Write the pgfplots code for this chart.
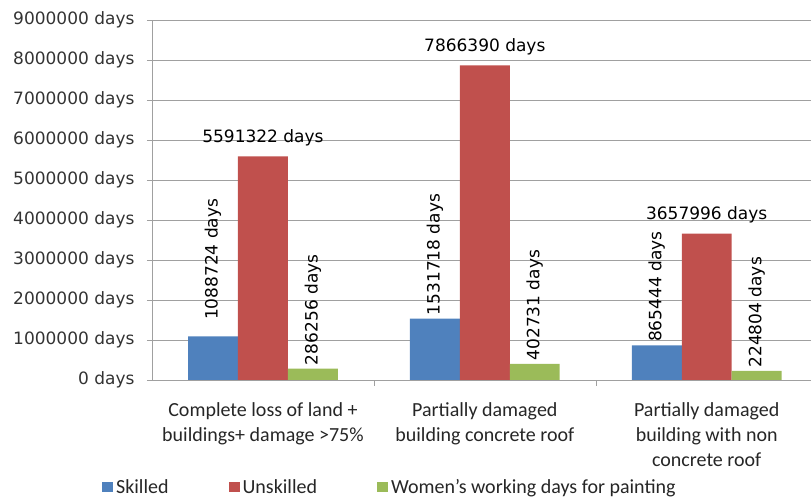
\documentclass[border=0pt]{standalone}
\usepackage{fontspec}
\setmainfont{Carlito}
\newfontfamily\dejavu{DejaVu Sans}
\usepackage{pgfplots}
\pgfplotsset{compat=1.18}
\definecolor{skilled}{HTML}{4F81BD}
\definecolor{unskilled}{HTML}{C0504D}
\definecolor{women}{HTML}{9BBB59}
\definecolor{gridgray}{HTML}{A0A0A0}
\newcommand\catfont{\fontsize{20bp}{25bp}\selectfont}
\newcommand\numfont{\dejavu\fontsize{17bp}{20bp}\selectfont}
\begin{document}
\begin{tikzpicture}
\begin{axis}[
  name=ax,
  scale only axis,
  width=659bp, height=360bp,
  xmin=-0.5, xmax=2.47,
  ymin=0, ymax=9000000,
  scaled y ticks=false,
  ybar=0pt, bar width=0.225,
  axis lines*=left,
  axis line style={draw=gridgray},
  ymajorgrids, grid style={draw=gridgray, line width=0.8pt},
  xtick={0,1,2},
  xticklabels={{Complete loss of land +\\buildings+ damage >75\%},
               {Partially damaged\\building concrete roof},
               {Partially damaged\\building with non\\concrete roof}},
  xticklabel style={align=center, font=\catfont, text=black!85, yshift=-14bp},
  major x tick style={draw=none},
  extra x ticks={0.5,1.5},
  extra x tick labels={},
  extra x tick style={major tick length=6bp, tick align=outside, grid=none, major x tick style={draw=gridgray}},
  ytick={0,1000000,2000000,3000000,4000000,5000000,6000000,7000000,8000000,9000000},
  yticklabels={0 days,1000000 days,2000000 days,3000000 days,4000000 days,5000000 days,6000000 days,7000000 days,8000000 days,9000000 days},
  yticklabel style={font=\numfont, text=black!80, xshift=-9bp},
  tick align=outside, major tick length=5bp,
  tick style={draw=gridgray},
  point meta=explicit symbolic,
  legend columns=3,
  legend style={at={(-0.076,-0.297)}, anchor=west, draw=none, fill=none,
    inner xsep=0pt, font=\catfont, text=black!85,
    /tikz/every odd column/.append style={column sep=1bp},
    /tikz/every even column/.append style={column sep=58bp}},
  legend image code/.code={\fill[#1] (0bp,-5bp) rectangle (11bp,5bp);},
]
\addplot[fill=skilled, draw=none,
  nodes near coords, nodes near coords style={font=\numfont, text=black, rotate=90, anchor=west}]
  coordinates {(0,1088724) [\hspace*{13bp}1088724 days] (1,1531718) [1531718 days] (2,865444) [865444 days]};
\addlegendentry{Skilled}
\addplot[fill=unskilled, draw=none,
  nodes near coords, nodes near coords style={font=\numfont, text=black, anchor=south, yshift=7bp}]
  coordinates {(0,5591322) [5591322 days] (1,7866390) [7866390 days] (2,3657996) [3657996 days]};
\addlegendentry{Unskilled}
\addplot[fill=women, draw=none,
  nodes near coords, nodes near coords style={font=\numfont, text=black, rotate=90, anchor=west}]
  coordinates {(0,286256) [286256 days] (1,402731) [402731 days] (2,224804) [224804 days]};
\addlegendentry{Women's working days for painting}
\end{axis}
\pgfresetboundingbox
\path ([shift={(-152bp,-120bp)}]ax.south west) rectangle ([shift={(0bp,20bp)}]ax.north east);
\end{tikzpicture}
\end{document}
